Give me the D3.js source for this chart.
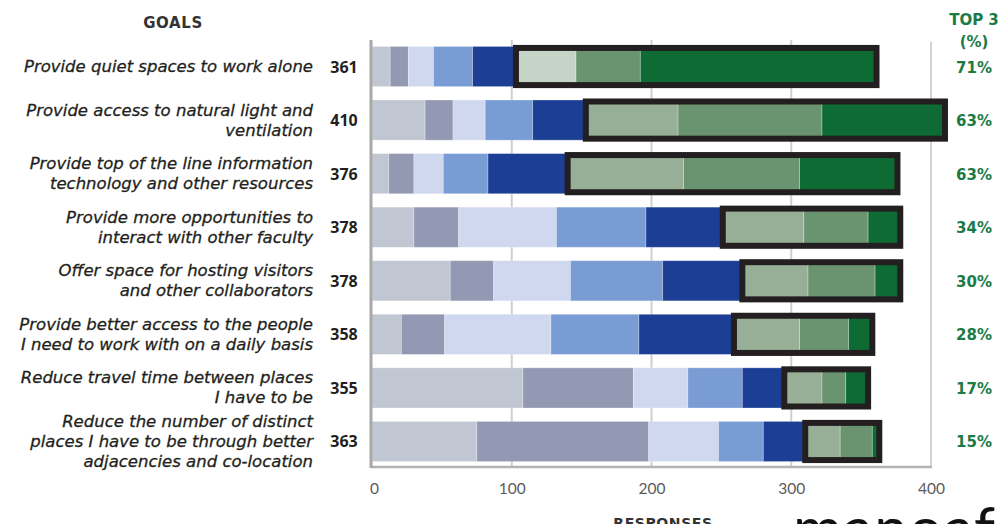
<!DOCTYPE html>
<html>
<head>
<meta charset="utf-8">
<script src="https://cdn.jsdelivr.net/npm/d3@7/dist/d3.min.js"></script>
<style>
  html, body { margin: 0; padding: 0; background: #fff; }
  svg { display: block; }
</style>
</head>
<body>
<svg id="chart" width="1008" height="524"></svg>
<script>
// Goals, in display order (line breaks mark label wrapping)
const goals = [
  "Provide quiet spaces to work alone",
  "Provide access to natural light and\nventilation",
  "Provide top of the line information\ntechnology and other resources",
  "Provide more opportunities to\ninteract with other faculty",
  "Offer space for hosting visitors\nand other collaborators",
  "Provide better access to the people\nI need to work with on a daily basis",
  "Reduce travel time between places\nI have to be",
  "Reduce the number of distinct\nplaces I have to be through better\nadjacencies and co-location"
];

// Number of respondents giving each goal a given rank (8 = lowest, 1 = top choice)
const rank8 = [13, 38, 12, 30, 56, 21, 108, 75];
const rank7 = [13, 20, 18, 32, 31, 31, 79, 123];
const rank6 = [18, 23, 21, 70, 55, 76, 39, 50];
const rank5 = [28, 34, 32, 64, 66, 63, 39, 32];
const rank4 = [31, 38, 57, 55, 57, 68, 30, 30];
const rank3 = [43, 66, 83, 58, 47, 47, 27, 25];
const rank2 = [46, 103, 83, 46, 48, 35, 17, 23];
const rank1 = [169, 88, 70, 23, 18, 17, 16, 5];

const xTicks = [0, 100, 200, 300, 400];

const rankKeys = ["rank8", "rank7", "rank6", "rank5", "rank4", "rank3", "rank2", "rank1"];
const topKeys = ["rank3", "rank2", "rank1"];
const rankColors = {
  rank8: "#c1c7d2", rank7: "#9398b3", rank6: "#d0d8ef", rank5: "#789cd3",
  rank4: "#1c3f95", rank3: "#97af96", rank2: "#6a9470", rank1: "#0d6b33"
};
const green = "#1c7a45";

const rows = goals.map((g, i) => {
  const r = { goal: g, rank8: rank8[i], rank7: rank7[i], rank6: rank6[i], rank5: rank5[i],
              rank4: rank4[i], rank3: rank3[i], rank2: rank2[i], rank1: rank1[i] };
  r.total = d3.sum(rankKeys, k => r[k]);
  r.top3 = d3.sum(topKeys, k => r[k]);
  r.rest = r.total - r.top3;
  return r;
});

const svg = d3.select("#chart");
const plotLeft = 372, plotRight = 931, plotTop = 40, plotBottom = 468;

const x = d3.scaleLinear().domain([0, 400]).range([plotLeft, plotRight]);
const y = d3.scaleBand().domain(goals).range([plotTop, plotBottom]).paddingInner(0.25).paddingOuter(0.12);

// Vertical gridlines
svg.append("g").selectAll("line")
  .data(xTicks.filter(t => t > 0 && t < 400))
  .join("line")
  .attr("x1", d => x(d)).attr("x2", d => x(d))
  .attr("y1", plotTop).attr("y2", plotBottom - 1)
  .attr("stroke", "#cfcfcf").attr("stroke-width", 2);

// Plot frame: right edge
svg.append("line").attr("x1", x(400)).attr("x2", x(400)).attr("y1", plotTop + 2).attr("y2", plotBottom - 1)
  .attr("stroke", "#d2d2d2").attr("stroke-width", 2);

// Stacked rank segments
const stacked = d3.stack().keys(rankKeys)(rows);
const segs = svg.append("g");
stacked.forEach(layer => {
  segs.append("g").selectAll("rect")
    .data(layer)
    .join("rect")
    .attr("x", d => x(d[0]))
    .attr("y", d => y(d.data.goal))
    .attr("width", d => x(d[1]) - x(d[0]))
    .attr("height", y.bandwidth())
    // the first goal's third-choice band is printed in a paler green
    .attr("fill", (d, i) => (layer.key === "rank3" && i === 0) ? "#c5d4c6" : rankColors[layer.key])
    .attr("stroke", "rgba(255,255,255,0.35)")
    .attr("stroke-width", 0.8);
});

// Outline around the top-three share of each bar
svg.append("g").selectAll("rect")
  .data(rows)
  .join("rect")
  .attr("x", d => x(d.rest))
  .attr("y", d => y(d.goal) + 1.5)
  .attr("width", d => x(d.total) - x(d.rest))
  .attr("height", y.bandwidth() - 3)
  .attr("fill", "none")
  .attr("stroke", "#231f20")
  .attr("stroke-width", 6);

// Bottom and left axis lines
svg.append("line").attr("x1", plotLeft - 1).attr("x2", x(400) + 1).attr("y1", plotBottom - 1).attr("y2", plotBottom - 1)
  .attr("stroke", "#b3b3b3").attr("stroke-width", 2.5);
svg.append("line").attr("x1", plotLeft - 1).attr("x2", plotLeft - 1).attr("y1", plotTop).attr("y2", plotBottom)
  .attr("stroke", "#a8a8a8").attr("stroke-width", 3);

// X axis tick labels
const xAxis = d3.axisBottom(x).tickValues(xTicks).tickSize(0).tickPadding(0).tickFormat(d3.format("d"));
const ax = svg.append("g").attr("transform", `translate(0, ${plotBottom + 15})`).call(xAxis);
ax.select(".domain").remove();
ax.selectAll("text")
  .attr("font-family", "Lato, 'Open Sans', sans-serif")
  .attr("font-size", 15.5)
  .attr("fill", "#5a5a5a")
  .attr("dx", (d) => d === 0 ? 2 : 0);

// Goal labels
const labelFont = "'DejaVu Sans', sans-serif";
const lab = svg.append("g");
rows.forEach(r => {
  const lines = r.goal.split("\n");
  const cy = y(r.goal) + y.bandwidth() / 2;
  const lh = 20;
  const t = lab.append("text")
    .attr("text-anchor", "end")
    .attr("font-family", labelFont)
    .attr("font-style", "italic")
    .attr("font-size", 16.5)
    .attr("fill", "#231f20")
    .attr("stroke", "#231f20")
    .attr("stroke-width", 0.3);
  lines.forEach((ln, j) => {
    t.append("tspan")
      .attr("x", 313)
      .attr("y", cy + (j - (lines.length - 1) / 2) * lh + 5.5)
      .text(ln);
  });
  // respondent count
  lab.append("text")
    .attr("x", 344).attr("y", cy + 6)
    .attr("text-anchor", "middle")
    .attr("font-family", "'Open Sans', sans-serif")
    .attr("font-weight", 700)
    .attr("font-size", 16)
    .attr("fill", "#231f20")
    .text(r.total);
  // top-three share
  lab.append("text")
    .attr("x", 974).attr("y", cy + 6)
    .attr("text-anchor", "middle")
    .attr("font-family", labelFont)
    .attr("font-weight", 700)
    .attr("font-size", 15)
    .attr("fill", green)
    .text(Math.round(100 * r.top3 / r.total) + "%");
});

// Column headers
svg.append("text").attr("x", 173).attr("y", 28).attr("text-anchor", "middle")
  .attr("font-family", labelFont).attr("font-weight", 700).attr("font-size", 15)
  .attr("letter-spacing", 0.6).attr("fill", "#333").text("GOALS");
svg.append("text").attr("x", 974).attr("y", 25).attr("text-anchor", "middle")
  .attr("font-family", labelFont).attr("font-weight", 700).attr("font-size", 15)
  .attr("fill", green).text("TOP 3");
svg.append("text").attr("x", 974).attr("y", 47).attr("text-anchor", "middle")
  .attr("font-family", labelFont).attr("font-weight", 700).attr("font-size", 15)
  .attr("fill", green).text("(%)");

// Axis title
svg.append("text").attr("x", 663).attr("y", 528).attr("text-anchor", "middle")
  .attr("font-family", labelFont).attr("font-weight", 700).attr("font-size", 14)
  .attr("letter-spacing", 0.6).attr("fill", "#333").text("RESPONSES");

// Publisher wordmark along the bottom edge
svg.append("text").attr("x", 793).attr("y", 550)
  .attr("font-family", "Lato, sans-serif").attr("font-weight", 400).attr("font-size", 60)
  .attr("letter-spacing", 1)
  .attr("fill", "#111").text("manoaf");
</script>
</body>
</html>
